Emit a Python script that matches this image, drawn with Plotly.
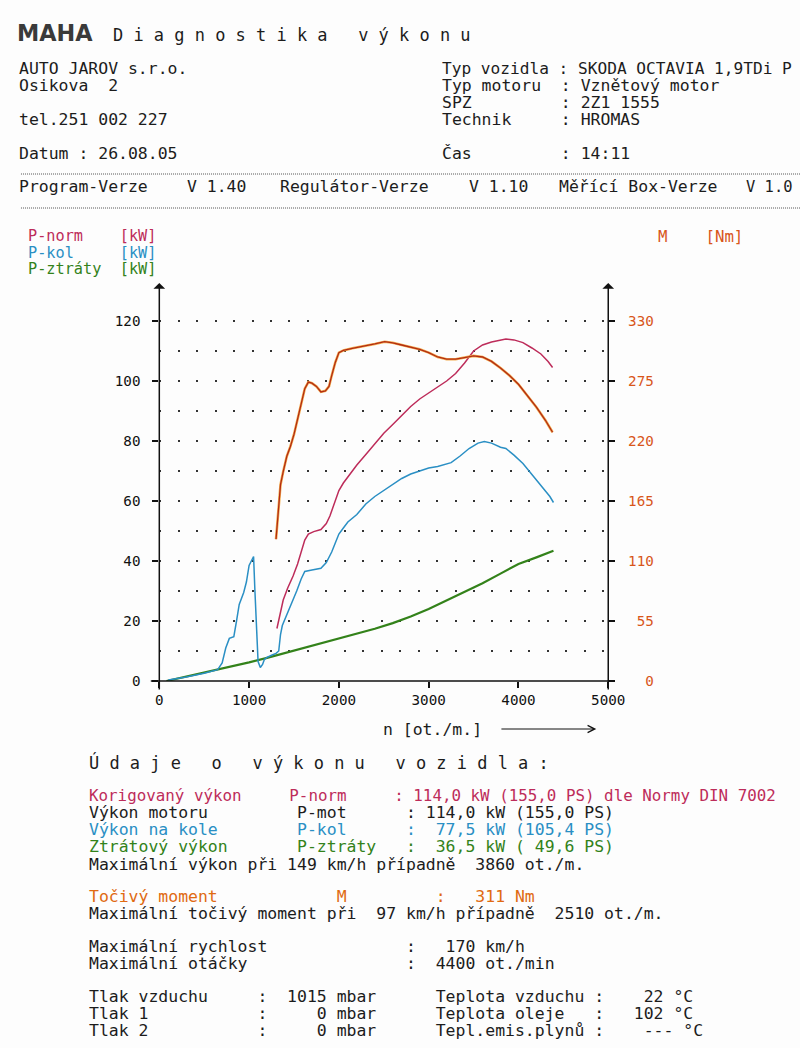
import plotly.graph_objects as go

# ---------------- data ----------------
x_ticks = [0, 1000, 2000, 3000, 4000, 5000]
y_ticks = [0, 20, 40, 60, 80, 100, 120]
y2_ticks = [0, 55, 110, 165, 220, 275, 330]

# P-ztráty (loss power) [kW]
rpm_loss = [80, 200, 400, 600, 800, 1000, 1200, 1400, 1600, 1800, 2000, 2200, 2400,
            2600, 2800, 3000, 3200, 3400, 3600, 3800, 4000, 4200, 4390]
p_loss = [0.0, 0.8, 2.0, 3.4, 4.8, 6.2, 7.7, 9.3, 10.9, 12.4, 14.0, 15.7, 17.4,
          19.3, 21.5, 24.0, 26.8, 29.6, 32.6, 35.8, 39.0, 41.2, 43.4]

# P-kol (wheel power) [kW]
rpm_kol = [100, 300, 500, 650, 700, 740, 780, 830, 860, 890, 940, 970, 1000, 1030, 1050,
           1065, 1085, 1100, 1125, 1150, 1170, 1200, 1250, 1300, 1330, 1350, 1370, 1420,
           1480, 1530, 1580, 1620, 1700, 1800, 1860, 1920, 1960, 2000, 2050, 2100, 2200,
           2300, 2400, 2500, 2600, 2700, 2800, 2900, 3000, 3100, 3200, 3250, 3350, 3450,
           3550, 3620, 3700, 3800, 3860, 3950, 4050, 4160, 4250, 4350, 4390]
p_kol = [0.3, 1.3, 2.6, 3.8, 6.0, 11.0, 14.2, 14.8, 20.0, 25.5, 29.5, 33.0, 38.5, 40.5, 41.5,
         30.0, 15.0, 6.5, 4.5, 5.5, 7.2, 7.9, 8.6, 9.2, 10.0, 15.5, 18.5, 22.0,
         26.0, 30.0, 34.0, 36.5, 37.0, 37.6, 39.5, 43.0, 46.0, 49.0, 51.0, 53.0, 55.5,
         59.0, 61.5, 63.5, 65.5, 67.5, 69.0, 70.0, 71.0, 71.5, 72.2, 72.8, 75.0, 77.5,
         79.3, 79.8, 79.3, 77.9, 77.5, 75.3, 72.5, 68.5, 65.5, 61.5, 59.5]

# P-norm (corrected power) [kW]
rpm_norm = [1310, 1340, 1380, 1430, 1490, 1540, 1580, 1620, 1660, 1720, 1800, 1860, 1900,
            1950, 2000, 2050, 2100, 2200, 2300, 2400, 2500, 2600, 2700, 2800, 2900, 3000,
            3100, 3200, 3300, 3400, 3500, 3600, 3700, 3800, 3860, 3950, 4050, 4150, 4250,
            4330, 4380]
p_norm = [17.5, 22.0, 27.0, 31.0, 35.0, 39.0, 43.0, 47.0, 49.0, 49.8, 50.5, 52.5, 55.0,
          59.5, 63.5, 66.0, 68.0, 72.0, 75.5, 79.0, 82.6, 85.5, 88.5, 91.5, 94.0, 96.0,
          97.8, 100.0, 102.5, 106.0, 110.0, 112.0, 113.0, 113.6, 114.0, 113.7, 112.8, 111.0,
          109.0, 106.5, 104.5]

# M (torque) [Nm]
rpm_m = [1300, 1320, 1350, 1380, 1420, 1460, 1500, 1540, 1580, 1620, 1660, 1700, 1750,
         1800, 1850, 1890, 1920, 1960, 2000, 2050, 2150, 2300, 2400, 2510, 2600, 2700,
         2800, 2900, 3000, 3100, 3200, 3300, 3400, 3500, 3600, 3700, 3800, 3900, 4000,
         4100, 4200, 4300, 4380]
m_nm = [130, 150, 180, 192, 206, 215, 226, 240, 255, 268, 274, 273, 270,
        265, 266, 270, 280, 292, 301, 303, 305, 307, 309, 311, 310, 308,
        306, 304, 301, 297, 295, 295, 296.5, 298, 297, 293, 287, 280, 272,
        262, 251, 239, 228]

# ---------------- layout helpers ----------------
# design coordinates are in the 800x1048 picture frame
W, H = 800, 1048
SX, SY = 820 / 800, 1056 / 1048   # figure canvas slightly larger than the design frame
SF = (SX + SY) / 2
FW, FH = round(W * SX), round(H * SY)

X0, X1 = 155.5, 605.0      # pixel x of 0 and 5000 rpm
Y0 = 681.0                 # pixel y of 0 kW
KW_PX = 3.0
Y_TOP = 125
NM_PER_KW = 2.75
TXT_DX = -3                # glyph side-bearing correction

MONO = "DejaVu Sans Mono, monospace"
FS = 16.2

C_NORM = "#bd2c5a"
C_KOL = "#2a8fc4"
C_LOSS = "#33821a"
C_M = "#d8561a"
C_TXT = "#1c1c1c"


def px(x):
    return x / W


def py(y):
    return 1 - y / H


def nb(s):
    return s.replace(" ", "\u00a0")


annotations = []


def txt(s, x, y, color=C_TXT, size=FS, family=MONO, anchor="left"):
    annotations.append(dict(
        text=nb(s), x=px(x + TXT_DX), y=py(y), xref="paper", yref="paper",
        xanchor=anchor, yanchor="middle", showarrow=False,
        font=dict(family=family, size=size * SF, color=color),
        borderpad=0, borderwidth=0))


def spaced(s):
    return " ".join(s)


fig = go.Figure()
fig.add_trace(go.Scatter(x=rpm_loss, y=p_loss, mode="lines", name="P-ztráty",
                         line=dict(color=C_LOSS, width=2.2)))
fig.add_trace(go.Scatter(x=rpm_kol, y=p_kol, mode="lines", name="P-kol",
                         line=dict(color=C_KOL, width=1.5)))
fig.add_trace(go.Scatter(x=rpm_norm, y=p_norm, mode="lines", name="P-norm",
                         line=dict(color=C_NORM, width=1.5)))
fig.add_trace(go.Scatter(x=rpm_m, y=m_nm, mode="lines", name="M", yaxis="y2",
                         line=dict(color="#f3ac4e", width=2.6)))
fig.add_trace(go.Scatter(x=rpm_m, y=m_nm, mode="lines", name="M core", yaxis="y2",
                         line=dict(color="#b22c14", width=1.3)))

# ---------------- header ----------------
annotations.append(dict(text="MAHA", x=px(12), y=py(33), xref="paper", yref="paper",
                        xanchor="left", yanchor="middle", showarrow=False,
                        font=dict(family="DejaVu Sans, sans-serif", size=22 * SF,
                                  color="#3a3a3a", weight="bold"), borderpad=0))
txt(spaced("Diagnostika výkonu"), 112, 35, size=16.7)

txt("AUTO JAROV s.r.o.", 18, 68.5)
txt("Osikova  2", 18, 85.5)
txt("tel.251 002 227", 18, 119)
txt("Datum : 26.08.05", 18, 153)

txt("Typ vozidla : SKODA OCTAVIA 1,9TDi P", 442, 68.5, size=15.9)
txt("Typ motoru  : Vznětový motor", 442, 85.5)
txt("SPZ         : 2Z1 1555", 442, 102.5)
txt("Technik     : HROMAS", 442, 120)
txt("Čas         : 14:11", 442, 153)

txt("Program-Verze", 18, 187)
txt("V 1.40", 186, 187)
txt("Regulátor-Verze", 279, 187)
txt("V 1.10", 469, 187)
txt("Měřící Box-Verze", 559, 187)
txt("V 1.0", 746, 187, size=15.2)

# ---------------- chart legend texts ----------------
txt("P-norm    [kW]", 27, 236.5, color=C_NORM, size=15)
txt("P-kol     [kW]", 27, 253, color=C_KOL, size=15)
txt("P-ztráty  [kW]", 27, 269.5, color=C_LOSS, size=15)
txt("M    [Nm]", 658, 236.5, color=C_M, size=15.5)

# x-axis title + arrow
txt("n [ot./m.]", 382, 729)
annotations.append(dict(text="", x=px(593), y=py(729), xref="paper", yref="paper",
                        ax=-94 * SX, ay=0, showarrow=True, arrowhead=5, arrowsize=1.4,
                        arrowwidth=1, arrowcolor="#111"))

# vertical axes with arrows
for xa in (X0, X1):
    annotations.append(dict(text="", x=px(xa), y=py(283), xref="paper", yref="paper",
                            ax=0, ay=405 * SY, showarrow=True, arrowhead=1, arrowsize=1.3,
                            arrowwidth=1.5, arrowcolor="#111"))

# ---------------- result block ----------------
txt(spaced("Údaje o výkonu vozidla:"), 88, 762, size=16.7)
txt("Korigovaný výkon     P-norm     : 114,0 kW (155,0 PS) dle Normy DIN 7002", 88, 795.5,
    color=C_NORM, size=15.6)
txt("Výkon motoru         P-mot      : 114,0 kW (155,0 PS)", 88, 812.5)
txt("Výkon na kole        P-kol      :  77,5 kW (105,4 PS)", 88, 829.5, color=C_KOL)
txt("Ztrátový výkon       P-ztráty   :  36,5 kW ( 49,6 PS)", 88, 846, color=C_LOSS)
txt("Maximální výkon při 149 km/h případně  3860 ot./m.", 88, 864)
txt("Točivý moment            M         :   311 Nm", 88, 896, color="#e06a12")
txt("Maximální točivý moment při  97 km/h případně  2510 ot./m.", 88, 913)
txt("Maximální rychlost              :   170 km/h", 88, 946)
txt("Maximální otáčky                :  4400 ot./min", 88, 963)
txt("Tlak vzduchu     :  1015 mbar      Teplota vzduchu :    22 °C", 88, 996.5)
txt("Tlak 1           :     0 mbar      Teplota oleje   :   102 °C", 88, 1013.5)
txt("Tlak 2           :     0 mbar      Tepl.emis.plynů :    --- °C", 88, 1030.5)

# ---------------- shapes ----------------
shapes = [
    dict(type="line", xref="paper", yref="paper", x0=px(17), x1=px(800), y0=py(174), y1=py(174),
         line=dict(color="#555", width=1, dash="1px,1px")),
    dict(type="line", xref="paper", yref="paper", x0=px(17), x1=px(800), y0=py(208), y1=py(208),
         line=dict(color="#555", width=1, dash="1px,1px")),
    dict(type="line", xref="paper", yref="paper", x0=px(147), x1=px(610), y0=py(Y0), y1=py(Y0),
         line=dict(color="#111", width=1.6)),
]

y2_text = [nb(f"{v:>3d}") for v in y2_ticks]
dot_gap = 18 * SX - 2
dot_grid = dict(showgrid=True, gridcolor="#333", gridwidth=2,
                griddash=f"2px,{dot_gap:.2f}px")
tick_font = dict(family=MONO, size=14 * SF, color="#111")

fig.update_layout(
    width=FW, height=FH, autosize=False,
    margin=dict(l=0, r=0, t=0, b=0),
    paper_bgcolor="#fdfdfd", plot_bgcolor="rgba(0,0,0,0)",
    showlegend=False,
    annotations=annotations,
    shapes=shapes,
    xaxis=dict(domain=[px(X0), px(X1)], range=[0, 5000], tickvals=x_ticks,
               ticks="outside", ticklen=6, tickwidth=1.5, tickcolor="#111",
               showgrid=False, zeroline=False, showline=False,
               tickfont=tick_font, anchor="y"),
    yaxis=dict(domain=[py(Y0), py(Y0 - Y_TOP * KW_PX)], range=[0, Y_TOP], tickvals=y_ticks,
               ticks="outside", ticklen=6, tickwidth=1.5, tickcolor="#111",
               zeroline=False, showline=False, ticklabelstandoff=9,
               tickfont=tick_font,
               minor=dict(dtick=10, tick0=0, ticks="", **dot_grid), **dot_grid),
    yaxis2=dict(overlaying="y", side="right", anchor="x", range=[0, Y_TOP * NM_PER_KW],
                tickvals=y2_ticks, ticktext=y2_text, ticks="outside", ticklen=6,
                tickwidth=1.5, tickcolor="#111", showgrid=False, zeroline=False,
                showline=False, ticklabelstandoff=10,
                tickfont=dict(family=MONO, size=14 * SF, color=C_M)),
)

fig.write_html("out.html",
               post_script="document.body.style.margin='0';"
                           "document.body.style.overflow='hidden';")
